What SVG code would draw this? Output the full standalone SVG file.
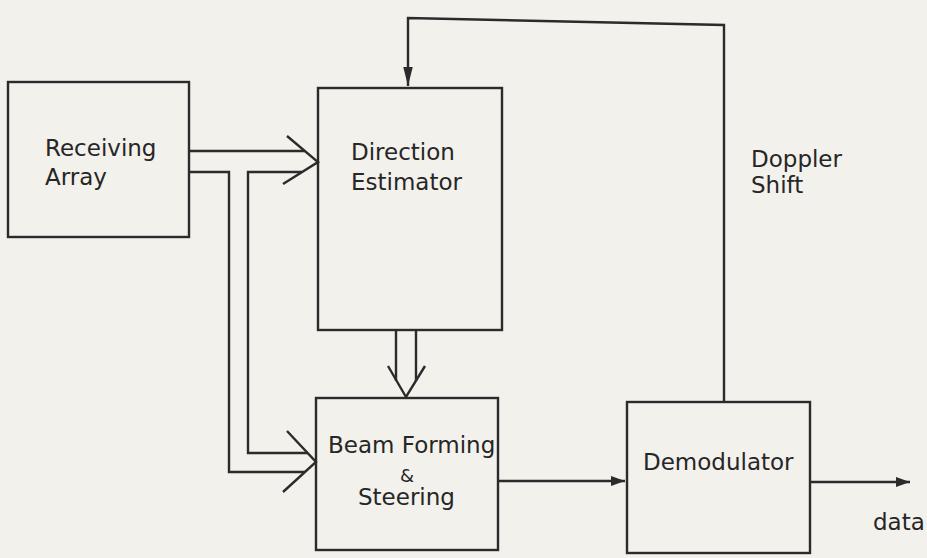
<svg xmlns="http://www.w3.org/2000/svg" width="927" height="558" viewBox="0 0 927 558">
<defs>
<style>
.bg{fill:#f3f1ec}
.box{fill:none;stroke:#2b2b2b;stroke-width:2.4}
.ln{fill:none;stroke:#2b2b2b;stroke-width:2.4;stroke-linejoin:miter}
.lb{font-family:"DejaVu Sans","Liberation Sans",sans-serif;font-size:23px;fill:#262626}
.amp{font-size:18px}
</style>
<marker id="fb" viewBox="0 0 10 10" refX="10" refY="5" markerWidth="6" markerHeight="6" orient="auto">
<path d="M0,1.5 L10,5 L0,8.5 Z" fill="#2b2b2b"/>
</marker>
<marker id="fc" viewBox="0 0 10 10" refX="10" refY="5" markerWidth="8" markerHeight="8" orient="auto">
<path d="M0,2.5 L10,5 L0,7.5 Z" fill="#2b2b2b"/>
</marker>
</defs>
<rect class="bg" x="0" y="0" width="927" height="558"/>

<g id="connectors">
  <!-- double arrow Receiving -> Direction, branching to Beam Forming -->
  <path class="ln" d="M189,151 L305,151"/>
  <path class="ln" d="M189,172 L229,172 L229,472 L305,472"/>
  <path class="ln" d="M302,172 L248,172 L248,453 L308,453"/>
  <path class="ln" d="M287,136 L318,162 L283,184"/>
  <path class="ln" d="M287,431 L316,462 L283,492"/>
  <!-- double arrow Direction -> Beam Forming -->
  <path class="ln" d="M396,330 L396,381"/>
  <path class="ln" d="M416,330 L416,381"/>
  <path class="ln" d="M388,366 L406,397 L425,366"/>
  <!-- Beam Forming -> Demodulator -->
  <path class="ln" d="M498,481 L625,481" marker-end="url(#fb)"/>
  <!-- Demodulator -> data -->
  <path class="ln" d="M810,482 L910,482" marker-end="url(#fb)"/>
  <!-- feedback Doppler shift -->
  <path class="ln" d="M724,402 L724,25 L408,18 L408,86" marker-end="url(#fc)"/>
</g>

<g id="receiving-array">
  <rect class="box" x="8" y="82" width="181" height="155"/>
  <text class="lb" x="45" y="156">Receiving</text>
  <text class="lb" x="45" y="185">Array</text>
</g>

<g id="direction-estimator">
  <rect class="box" x="318" y="88" width="184" height="242"/>
  <text class="lb" x="351" y="160">Direction</text>
  <text class="lb" x="351" y="190">Estimator</text>
</g>

<g id="beam-forming">
  <rect class="box" x="316" y="398" width="182" height="152"/>
  <text class="lb" x="328" y="453">Beam Forming</text>
  <text class="lb amp" x="400" y="482">&amp;</text>
  <text class="lb" x="358" y="505">Steering</text>
</g>

<g id="demodulator">
  <rect class="box" x="627" y="402" width="183" height="151"/>
  <text class="lb" x="643" y="470">Demodulator</text>
</g>

<g id="labels">
  <text class="lb" x="751" y="167">Doppler</text>
  <text class="lb" x="751" y="193">Shift</text>
  <text class="lb" x="873" y="530">data</text>
</g>
</svg>
